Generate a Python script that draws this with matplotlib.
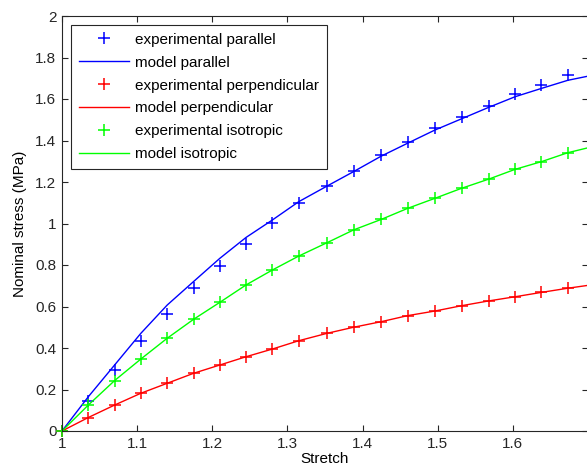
import numpy as np
import matplotlib
matplotlib.use("Agg")
import matplotlib.pyplot as plt

plt.rcParams['font.family'] = ['Liberation Sans', 'DejaVu Sans']

# stretch values of the measurements
stretch = [1.0, 1.035, 1.07, 1.105, 1.14, 1.175, 1.21, 1.245, 1.28, 1.315,
           1.353, 1.388, 1.425, 1.46, 1.496, 1.532, 1.568, 1.603, 1.638, 1.673]
stretch_model = stretch + [1.708]

# experimental nominal stress (MPa)
exp_parallel = [0.0, 0.145, 0.294, 0.435, 0.564, 0.688, 0.795, 0.901, 1.004, 1.100,
                1.181, 1.254, 1.330, 1.391, 1.459, 1.515, 1.566, 1.623, 1.667, 1.716]
exp_perp = [0.0, 0.065, 0.125, 0.182, 0.230, 0.278, 0.318, 0.358, 0.395, 0.435,
            0.471, 0.500, 0.527, 0.556, 0.578, 0.604, 0.627, 0.647, 0.668, 0.688]
exp_iso = [0.0, 0.125, 0.243, 0.347, 0.447, 0.538, 0.620, 0.704, 0.776, 0.843,
           0.908, 0.969, 1.020, 1.073, 1.121, 1.170, 1.214, 1.261, 1.298, 1.341]

# model fits
model_parallel = [0.0, 0.165, 0.318, 0.471, 0.607, 0.720, 0.832, 0.933, 1.017, 1.105,
                  1.181, 1.250, 1.325, 1.387, 1.450, 1.505, 1.560, 1.611, 1.651, 1.690, 1.716]
model_perp = exp_perp + [0.706]
model_iso = exp_iso + [1.372]

fig = plt.figure(figsize=(5.87, 4.74), dpi=100)
ax = fig.add_axes([62 / 587, 43 / 474, 526 / 587, 415 / 474])

ax.plot(stretch, exp_parallel, '+', color='b', ms=8, mew=1.1, label='experimental parallel', clip_on=False)
ax.plot(stretch_model, model_parallel, '-', color='b', lw=1, label='model parallel')
ax.plot(stretch, exp_perp, '+', color='r', ms=8, mew=1.1, label='experimental perpendicular', clip_on=False)
ax.plot(stretch_model, model_perp, '-', color='r', lw=1, label='model perpendicular')
ax.plot(stretch, exp_iso, '+', color='#00ff00', ms=8, mew=1.1, label='experimental isotropic', clip_on=False)
ax.plot(stretch_model, model_iso, '-', color='#00ff00', lw=1, label='model isotropic')

ax.set_xlim(1, 1.7)
ax.set_ylim(0, 2)
ax.set_xticks(np.arange(1, 1.65, 0.1))
ax.set_xticklabels(['1', '1.1', '1.2', '1.3', '1.4', '1.5', '1.6'])
ax.set_yticks(np.arange(0, 2.01, 0.2))
ax.set_yticklabels(['0', '0.2', '0.4', '0.6', '0.8', '1', '1.2', '1.4', '1.6', '1.8', '2'])
ax.tick_params(direction='in', top=True, right=True, length=4, width=0.8, pad=4,
               labelsize=11, colors='#262626', labelcolor='#262626')
for sp in ax.spines.values():
    sp.set_color('#262626')
    sp.set_linewidth(0.8)

ax.set_xlabel('Stretch', fontsize=11, labelpad=1)
ax.set_ylabel('Nominal stress (MPa)', fontsize=11, labelpad=6)

leg = ax.legend(loc='upper left', fontsize=11, frameon=True, fancybox=False,
                edgecolor='#262626', framealpha=1, numpoints=1,
                handlelength=3.3, handletextpad=0.4, labelspacing=0.58,
                borderaxespad=0.6, borderpad=0.5)
leg.get_frame().set_linewidth(0.8)

fig.savefig('out.png', dpi=100)
